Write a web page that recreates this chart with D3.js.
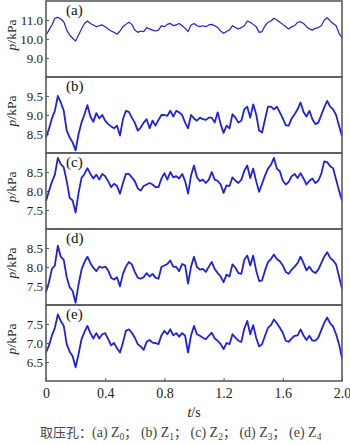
<!DOCTYPE html>
<html>
<head>
<meta charset="utf-8">
<script src="https://cdn.jsdelivr.net/npm/d3@7"></script>
<style>
  html, body { margin: 0; padding: 0; background: #fff; }
  svg { display: block; }
</style>
</head>
<body>
<svg id="chart" width="350" height="445"></svg>
<script>
// Pressure at the five tapping holes, sampled every 0.02 s over 2 s
const timeStep = 0.02;
const pressureZ0 = [10.21,10.47,10.74,11.09,11.14,11.05,10.91,10.47,10.21,10.04,9.89,10.21,10.53,10.82,10.95,10.82,10.74,10.65,10.70,10.74,10.65,10.53,10.42,10.35,10.25,10.42,10.65,10.77,10.88,10.77,10.47,10.35,10.42,10.39,10.60,10.53,10.47,10.42,10.47,10.70,10.65,10.77,10.82,10.70,10.74,10.82,10.70,10.56,10.39,10.74,10.82,10.70,10.65,10.70,10.65,10.74,10.77,10.70,10.60,10.42,10.30,10.39,10.47,10.70,10.60,10.53,10.60,10.70,10.95,10.88,10.77,10.65,10.35,10.39,10.70,10.88,10.95,11.09,11.00,10.88,10.77,10.65,10.53,10.65,10.70,10.88,10.91,10.82,10.65,10.53,10.47,10.56,10.60,10.70,11.00,11.12,10.95,10.82,10.70,10.30,10.07];
const pressureZ1 = [8.41,8.63,8.91,9.11,9.50,9.33,9.11,8.59,8.41,8.28,8.07,8.50,8.80,9.02,9.26,8.96,8.82,9.05,8.91,9.00,8.85,8.76,8.70,8.65,8.72,8.46,8.89,9.11,9.08,8.93,8.80,8.59,8.67,8.80,8.89,8.65,8.85,8.72,8.87,9.00,9.00,8.98,9.11,8.96,9.11,9.07,9.00,8.80,8.65,9.00,8.91,8.85,8.93,8.89,8.87,8.93,8.93,8.80,9.07,8.76,8.53,8.72,8.65,9.02,8.93,8.80,8.85,9.15,9.22,8.93,9.28,9.02,8.59,8.54,8.89,9.22,9.22,9.15,9.22,9.07,8.91,8.73,8.72,8.91,9.02,9.15,9.33,9.08,8.96,9.11,8.89,8.76,8.80,9.00,9.20,9.37,9.22,9.15,9.00,8.72,8.44];
const pressureZ2 = [7.73,8.00,8.24,8.43,8.87,8.71,8.62,8.26,7.82,7.75,7.43,7.95,8.34,8.45,8.60,8.45,8.33,8.43,8.30,8.45,8.39,8.26,8.10,8.19,8.13,7.93,8.21,8.45,8.45,8.36,8.26,8.07,8.01,8.13,8.17,8.21,8.17,8.10,8.10,8.33,8.47,8.30,8.50,8.36,8.39,8.33,8.45,8.26,7.93,8.41,8.67,8.36,8.26,8.30,8.21,8.30,8.50,8.30,8.27,8.17,7.95,8.15,8.13,8.36,8.27,8.21,8.30,8.53,8.67,8.34,8.59,8.26,7.98,8.19,8.41,8.59,8.69,8.87,8.59,8.52,8.27,8.17,8.24,8.39,8.45,8.34,8.47,8.33,8.17,8.27,8.33,8.21,8.27,8.45,8.78,8.76,8.65,8.60,8.30,8.01,7.75];
const pressureZ3 = [7.34,7.60,7.95,8.04,8.56,8.27,8.19,7.73,7.47,7.37,7.06,7.54,7.93,8.13,8.27,8.10,7.98,7.89,8.01,7.98,8.01,7.91,7.72,7.67,7.73,7.49,7.82,8.01,8.13,8.07,7.87,7.72,7.69,7.73,7.84,7.75,7.82,7.72,7.69,8.00,8.04,8.08,8.17,8.01,8.00,7.89,8.08,8.04,7.56,8.01,8.27,8.00,7.93,7.95,7.87,8.01,8.13,7.95,7.84,7.75,7.60,7.80,7.75,8.07,7.98,7.84,7.82,8.19,8.30,8.04,8.30,7.91,7.63,7.65,7.91,8.13,8.21,8.33,8.21,8.15,8.04,7.87,7.82,7.93,8.01,8.10,8.27,8.10,7.91,8.01,7.89,7.84,7.93,8.10,8.27,8.39,8.24,8.17,8.07,7.75,7.43];
const pressureZ4 = [6.75,6.93,7.20,7.40,7.75,7.58,7.45,6.97,6.77,6.65,6.36,6.71,7.10,7.29,7.45,7.26,7.12,7.26,7.12,7.23,7.26,7.10,6.94,7.00,6.86,6.75,7.01,7.32,7.36,7.27,7.14,6.97,6.91,6.82,7.03,7.08,7.01,7.00,6.97,7.20,7.32,7.23,7.36,7.20,7.26,7.17,7.26,7.19,6.75,7.20,7.45,7.23,7.19,7.14,7.10,7.19,7.27,7.12,7.06,6.97,6.84,7.00,6.97,7.23,7.14,7.06,7.03,7.38,7.58,7.23,7.47,7.14,6.91,6.97,7.19,7.40,7.47,7.62,7.52,7.40,7.27,7.06,7.03,7.12,7.19,7.20,7.36,7.20,7.08,7.19,7.06,7.06,7.14,7.34,7.53,7.67,7.52,7.43,7.23,6.97,6.60];

const panelTags = ["(a)", "(b)", "(c)", "(d)", "(e)"];
const yDomains = [[8, 12], [8, 10], [7, 9], [7, 9], [6, 8]];
const yTickValues = [[9, 10, 11], [8.5, 9, 9.5], [7.5, 8, 8.5], [7.5, 8, 8.5], [6.5, 7, 7.5]];
const xTickValues = [0, 0.4, 0.8, 1.2, 1.6, 2.0];
const captionItems = [["(a)", "0"], ["(b)", "1"], ["(c)", "2"], ["(d)", "3"], ["(e)", "4"]];

const seriesList = [pressureZ0, pressureZ1, pressureZ2, pressureZ3, pressureZ4];

const svg = d3.select("#chart");
const plotLeft = 46, plotRight = 342, plotTop = 1, panelH = 76;
const serif = "'Liberation Serif', 'Times New Roman', serif";
const cjk = "'Noto Sans CJK SC', sans-serif";
const lineColor = "#1f1fe8";
const frameColor = "#5a5a5a";

const x = d3.scaleLinear().domain([0, 2]).range([plotLeft, plotRight]);

seriesList.forEach((values, k) => {
  const y0 = plotTop + k * panelH;
  const y = d3.scaleLinear().domain(yDomains[k]).range([y0 + panelH, y0]);
  const g = svg.append("g");

  // left axis with inward ticks
  const ax = g.append("g")
    .attr("transform", `translate(${plotLeft},0)`)
    .call(d3.axisLeft(y).tickValues(yTickValues[k]).tickSize(-3).tickPadding(3).tickFormat(d3.format(".1f")));
  ax.attr("font-family", serif);
  ax.select(".domain").remove();
  ax.selectAll(".tick line").attr("stroke", frameColor).attr("stroke-width", 1);
  ax.selectAll(".tick text")
    .attr("font-family", serif).attr("font-size", 13).attr("fill", "#222");

  // pressure trace
  const line = d3.line()
    .x((d, i) => x(i * timeStep))
    .y(d => y(d));
  g.append("path")
    .datum(values)
    .attr("d", line)
    .attr("fill", "none")
    .attr("stroke", lineColor)
    .attr("stroke-width", k === 0 ? 1.2 : 1.8)
    .attr("stroke-linejoin", "round");

  // panel frame
  g.append("rect")
    .attr("x", plotLeft).attr("y", y0)
    .attr("width", plotRight - plotLeft).attr("height", panelH)
    .attr("fill", "none").attr("stroke", frameColor).attr("stroke-width", 1.6);

  // panel tag
  g.append("text")
    .attr("x", 66).attr("y", y0 + 14)
    .attr("font-family", serif).attr("font-size", 15).attr("fill", "#111")
    .text(panelTags[k]);

  // y label p/kPa
  const lab = g.append("text")
    .attr("transform", `translate(16,${y0 + 34}) rotate(-90)`)
    .attr("text-anchor", "middle")
    .attr("font-family", serif).attr("font-size", 13.5).attr("fill", "#222");
  lab.append("tspan").attr("font-style", "italic").text("p");
  lab.append("tspan").text("/kPa");
});

// bottom time axis
const plotBottom = plotTop + 5 * panelH;
const xa = svg.append("g")
  .attr("transform", `translate(0,${plotBottom})`)
  .call(d3.axisBottom(x).tickValues(xTickValues).tickSize(-3).tickPadding(7).tickFormat(d3.format(".1f")));
xa.attr("font-family", serif);
xa.select(".domain").remove();
xa.selectAll(".tick line").attr("stroke", frameColor);
xa.selectAll(".tick text")
  .attr("font-family", serif).attr("font-size", 14).attr("fill", "#222")
  .text(d => d === 0 ? "0" : d3.format(".1f")(d));

const xl = svg.append("text")
  .attr("x", (plotLeft + plotRight) / 2).attr("y", 417)
  .attr("text-anchor", "middle")
  .attr("font-family", serif).attr("font-size", 14).attr("fill", "#222");
xl.append("tspan").attr("font-style", "italic").text("t");
xl.append("tspan").text("/s");

// caption
const cap = svg.append("text")
  .attr("x", 40).attr("y", 437)
  .attr("font-family", serif).attr("font-size", 14).attr("fill", "#444");
cap.append("tspan").attr("font-family", cjk).attr("font-size", 13).text("取压孔：");
captionItems.forEach((c, i) => {
  cap.append("tspan").text(c[0] + " Z");
  cap.append("tspan").attr("font-size", 9.5).attr("dy", 3).text(c[1]);
  if (i < captionItems.length - 1) {
    cap.append("tspan").attr("dy", -3).attr("font-family", cjk).attr("font-size", 13).text("；");
    cap.append("tspan").text("\u00a0");
  }
});
</script>
</body>
</html>
